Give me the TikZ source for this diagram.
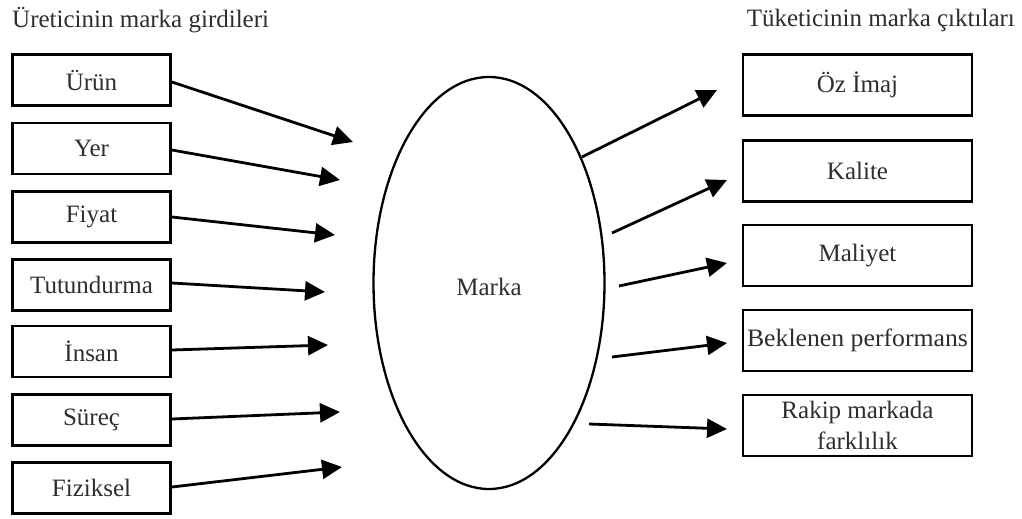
\documentclass[tikz,border=0pt]{standalone}
\usepackage{fontspec}
\setmainfont{Liberation Serif}
\usetikzlibrary{arrows.meta,shapes.geometric}
\begin{document}
\begin{tikzpicture}[x=1pt,y=-1pt,
  inbox/.style={draw, line width=2.8pt, minimum width=158pt, minimum height=51pt, inner sep=0pt, font=\fontsize{25}{28}\selectfont, text=black!82},
  outbox/.style={draw, line width=2.8pt, minimum width=229pt, minimum height=61pt, inner sep=0pt, align=center, font=\fontsize{25}{31}\selectfont, text=black!82},
  arr/.style={line width=2.8pt, -{Triangle[length=20pt,width=19pt]}},
  title/.style={font=\fontsize{25}{28}\selectfont, text=black!82, inner sep=0pt}]
\useasboundingbox (0,0) rectangle (1022,519);
% titles
\node[title, anchor=west] (t1) at (12,20) {Üreticinin marka girdileri};
\node[title, anchor=east] (t2) at (1015,20) {Tüketicinin marka çıktıları};
% central ellipse
\node[draw, ellipse, line width=2.3pt, minimum width=231pt, minimum height=412pt, inner sep=0pt] (m) at (489,283) {};
\node[font=\fontsize{25}{28}\selectfont, text=black!82] (mt) at (489,287) {Marka};
% left boxes
\node[inbox] (b1) at (91.5,80) {Ürün};
\node[inbox] (b2) at (91.5,148.5) {Yer};
\node[inbox] (b3) at (91.5,217) {Fiyat};
\node[inbox] (b4) at (91.5,285) {Tutundurma};
\node[inbox] (b5) at (91.5,351.5) {İnsan};
\node[inbox] (b6) at (91.5,420) {Süreç};
\node[inbox] (b7) at (91.5,488) {Fiziksel};
% right boxes
\node[outbox] (r1) at (857.5,85) {Öz İmaj};
\node[outbox] (r2) at (857.5,171) {Kalite};
\node[outbox] (r3) at (857.5,255.5) {Maliyet};
\node[outbox] (r4) at (857.5,340.5) {\scalebox{1.03}[1]{Beklenen performans}};
\node[outbox] (r5) at (857.5,425.5) {Rakip markada\\farklılık};
% free ends of left arrows
\coordinate (e1) at (353,142);
\coordinate (e2) at (340,180);
\coordinate (e3) at (335,235);
\coordinate (e4) at (325,292);
\coordinate (e5) at (328,345);
\coordinate (e6) at (340,412);
\coordinate (e7) at (342,467);
\draw[arr] (b1.east |- 0,82) -- (e1);
\draw[arr] (b2.east |- 0,150) -- (e2);
\draw[arr] (b3.east |- 0,217) -- (e3);
\draw[arr] (b4.east |- 0,283) -- (e4);
\draw[arr] (b5.east |- 0,350) -- (e5);
\draw[arr] (b6.east |- 0,419) -- (e6);
\draw[arr] (b7.east |- 0,487) -- (e7);
% right arrows
\coordinate (s1) at (582,157);
\coordinate (s2) at (612,233);
\coordinate (s3) at (619,286);
\coordinate (s4) at (612,357);
\coordinate (s5) at (589,424);
\coordinate (f1) at (717,90);
\coordinate (f2) at (727,180);
\coordinate (f3) at (727,263);
\coordinate (f4) at (727,343);
\coordinate (f5) at (727,429);
\draw[arr] (s1) -- (f1);
\draw[arr] (s2) -- (f2);
\draw[arr] (s3) -- (f3);
\draw[arr] (s4) -- (f4);
\draw[arr] (s5) -- (f5);
\end{tikzpicture}
\end{document}
